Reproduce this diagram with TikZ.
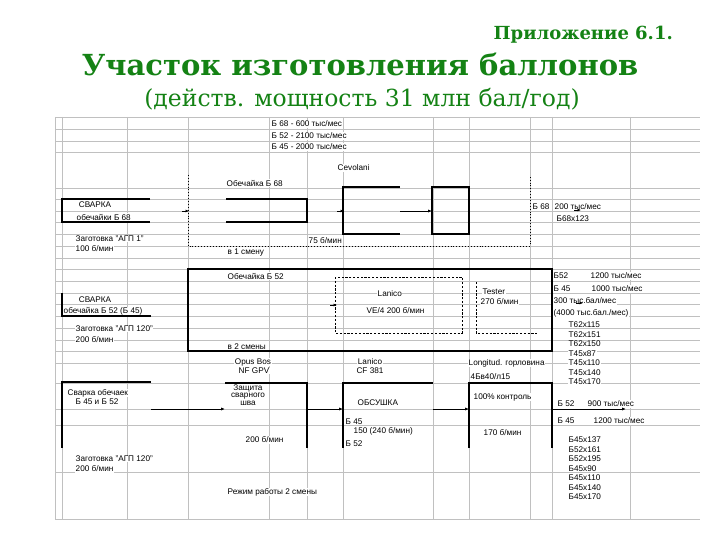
\documentclass[tikz,border=0pt]{standalone}
\usepackage{fontspec}
\setmainfont{Liberation Sans}
\newfontfamily\titlefont{DejaVu Serif}
\usetikzlibrary{arrows.meta}
\definecolor{titlegreen}{RGB}{20,130,20}
\definecolor{gridgrey}{RGB}{192,192,192}
\begin{document}
\begin{tikzpicture}[x=1pt,y=-1pt,
  gridline/.style={draw=gridgrey,line width=0.8pt},
  boxline/.style={draw=black,line width=1.1pt},
  dotline/.style={draw=black,line width=0.9pt,dotted},
  dashline/.style={draw=black,line width=0.8pt,dash pattern=on 2.2pt off 1.6pt},
  lbl/.style={font=\fontsize{8.2}{9.5}\selectfont,inner sep=0.5pt,fill=white,anchor=west},
  lblc/.style={lbl,anchor=center,align=center},
  flow/.style={draw=black,line width=0.9pt,-{Latex[length=4pt,width=3.2pt]}},
  tipmark/.style={draw=black,line width=0.6pt,-{Latex[length=3.5pt,width=3pt]}},
  ttl/.style={text=titlegreen,inner sep=0pt}
]
\useasboundingbox (0,0) rectangle (720,540);
\fill[white] (0,0) rectangle (720,540);

% ---- titles
\node[ttl,anchor=east,font=\titlefont\bfseries\fontsize{18}{21}\selectfont] (appx) at (673,35) {Приложение 6.1.};
\node[ttl,font=\titlefont\bfseries\fontsize{29}{34}\selectfont] (title) at (360,64) {Участок изготовления баллонов};
\node[ttl,font=\titlefont\fontsize{23.5}{27}\selectfont] (subt) at (362,99) {(действ. мощность 31 млн бал/год)};

% ---- spreadsheet grid
\foreach \yy in {117,129,141,152,188,199,211,222,234,246,258,269,281,293,304,316,328,340,351,363,383,409,425,472,519}
  \draw[gridline] (55,\yy) -- (700,\yy);
\foreach \xx in {55,62,127,188,269,307,343,433,469,530,552,630}
  \draw[gridline] (\xx,117) -- (\xx,519);

% ---- upper section shapes
\draw[boxline] (150,199) -- (62,199) -- (62,222) -- (150,222);
\draw[boxline] (226,199) -- (307,199) -- (307,222) -- (226,222);
\draw[boxline] (400,187) -- (343,187) -- (343,234) -- (400,234);
\draw[boxline] (432,187) rectangle (469,234);
\draw[dotline] (188,175) -- (188,246) -- (530,246) -- (530,175);

% ---- middle section shapes
\draw[boxline] (188,269) rectangle (552,351);
\draw[dashline] (335,277) rectangle (462,333);
\draw[dashline] (476,282) -- (476,333) -- (537,333);
\draw[boxline] (62,293) -- (62,316) -- (151,316);

% ---- lower section shapes
\draw[boxline] (151,382) -- (62,382) -- (62,448);
\draw[boxline] (225,383) -- (307,383) -- (307,448);
\draw[boxline] (433,383) -- (343,383) -- (343,448);
\draw[boxline] (469,448) -- (469,383) -- (552,383) -- (552,448);

% ---- texts, upper
\node[lbl] (q68) at (271,124) {Б 68 - 600 тыс/мес};
\node[lbl] (q52) at (271,136) {Б 52 - 2100 тыс/мес};
\node[lbl] (q45) at (271,147) {Б 45 - 2000 тыс/мес};
\node[lbl] (cev) at (337,168) {Cevolani};
\node[lbl] (ob68) at (226,183) {Обечайка Б 68};
\node[lblc] (sv1) at (95,205) {СВАРКА};
\node[lbl] (sv1b) at (76,217) {обечайки Б 68};
\node[lbl] (o68a) at (532,207) {Б 68};
\node[lbl] (o68b) at (554,207) {200 тыс/мес};
\node[lbl] (o68c) at (556,219) {Б68х123};
\node[lbl] (sp75) at (308,241) {75 б/мин};
\node[lbl] (sm1) at (227,253) {в 1 смену};
\node[lbl] (zg1a) at (75,239) {Заготовка "АГП 1"};
\node[lbl] (zg1b) at (75,249) {100 б/мин};

% ---- texts, middle
\node[lbl] (ob52) at (227,276) {Обечайка Б 52};
\node[lbl] (lan1) at (377,294) {Lanico};
\node[lbl] (lan1b) at (366,311) {VE/4 200 б/мин};
\node[lbl] (tst) at (482,292) {Tester};
\node[lbl] (tstb) at (480,302) {270 б/мин};
\node[lblc] (sv2) at (95,300) {СВАРКА};
\node[lbl] (sv2b) at (63,311) {обечайка Б 52 (Б 45)};
\node[lbl] (zg2a) at (75,329) {Заготовка "АГП 120"};
\node[lbl] (zg2b) at (75,340) {200 б/мин};
\node[lbl] (sm2) at (227,347) {в 2 смены};
\node[lbl] (r52a) at (553,276) {Б52};
\node[lbl] (r52b) at (590,276) {1200 тыс/мес};
\node[lbl] (r45a) at (553,289) {Б 45};
\node[lbl] (r45b) at (591,289) {1000 тыс/мес};
\node[lbl] (r300) at (553,301) {300 тыс.бал/мес};
\node[lbl] (r4000) at (553,313) {(4000 тыс.бал./мес)};
\foreach \t [count=\i] in {Т62х115,Т62х151,Т62х150,Т45х87,Т45х110,Т45х140,Т45х170}
  \node[lbl] (tl\i) at (568,{315.5+9.5*\i}) {\t};

% ---- texts, lower
\node[lblc] (opus) at (253,362) {Opus Bos};
\node[lblc] (opusb) at (254,371) {NF GPV};
\node[lblc] (lan2) at (370,362) {Lanico};
\node[lblc] (lan2b) at (370,371) {CF 381};
\node[lbl] (lng) at (468,363) {Longitud. горловина};
\node[lbl] (ibv) at (470,377) {4Бв40/л15};
\node[lblc] (zsh) at (248,395) {Защита\\[-2pt]сварного\\[-2pt]шва};
\node[lbl] (zshb) at (245,440) {200 б/мин};
\node[lbl] (obs) at (357,403) {ОБСУШКА};
\node[lbl] (obs45) at (345,422) {Б 45};
\node[lbl] (obs150) at (353,431) {150 (240 б/мин)};
\node[lbl] (obs52) at (345,444) {Б 52};
\node[lbl] (ctl) at (473,397) {100\% контроль};
\node[lbl] (ctlb) at (483,433) {170 б/мин};
\node[lbl] (f52a) at (557,404) {Б 52};
\node[lbl] (f52b) at (587,404) {900 тыс/мес};
\node[lbl] (f45a) at (557,421) {Б 45};
\node[lbl] (f45b) at (593,421) {1200 тыс/мес};
\foreach \t [count=\i] in {Б45х137,Б52х161,Б52х195,Б45х90,Б45х110,Б45х140,Б45х170}
  \node[lbl] (bl\i) at (568,{430.5+9.5*\i}) {\t};
\node[lbl] (svo) at (67,393) {Сварка обечаек};
\node[lbl] (svob) at (75,402) {Б 45 и Б 52};
\node[lbl] (zg3a) at (75,459) {Заготовка "АГП 120"};
\node[lbl] (zg3b) at (75,469) {200 б/мин};
\node[lbl] (rej) at (227,492) {Режим работы 2 смены};

% ---- connectors
\coordinate (a1s) at (182,211); \coordinate (a1e) at (189,211);
\coordinate (a2s) at (337,211); \coordinate (a2e) at (344,211);
\coordinate (a3s) at (400,211); \coordinate (a3e) at (432,211);
\coordinate (a4s) at (574,210); \coordinate (a4e) at (581,210);
\coordinate (a5s) at (330,305); \coordinate (a5e) at (337,305);
\coordinate (a6s) at (576,303); \coordinate (a6e) at (583,303);
\coordinate (b1s) at (151,409); \coordinate (b1e) at (225,409);
\coordinate (b2s) at (307,409); \coordinate (b2e) at (343,409);
\coordinate (b3s) at (433,409); \coordinate (b3e) at (469,409);
\coordinate (b4s) at (552,409); \coordinate (b4e) at (626,409);
\draw[tipmark] (a1s) -- (a1e);
\draw[tipmark] (a2s) -- (a2e);
\draw[flow] (a3s) -- (a3e);
\draw[tipmark] (a4s) -- (a4e);
\draw[tipmark] (a5s) -- (a5e);
\draw[tipmark] (a6s) -- (a6e);
\draw[flow] (b1s) -- (b1e);
\draw[flow] (b2s) -- (b2e);
\draw[flow] (b3s) -- (b3e);
\draw[flow] (b4s) -- (b4e);
\end{tikzpicture}
\end{document}
